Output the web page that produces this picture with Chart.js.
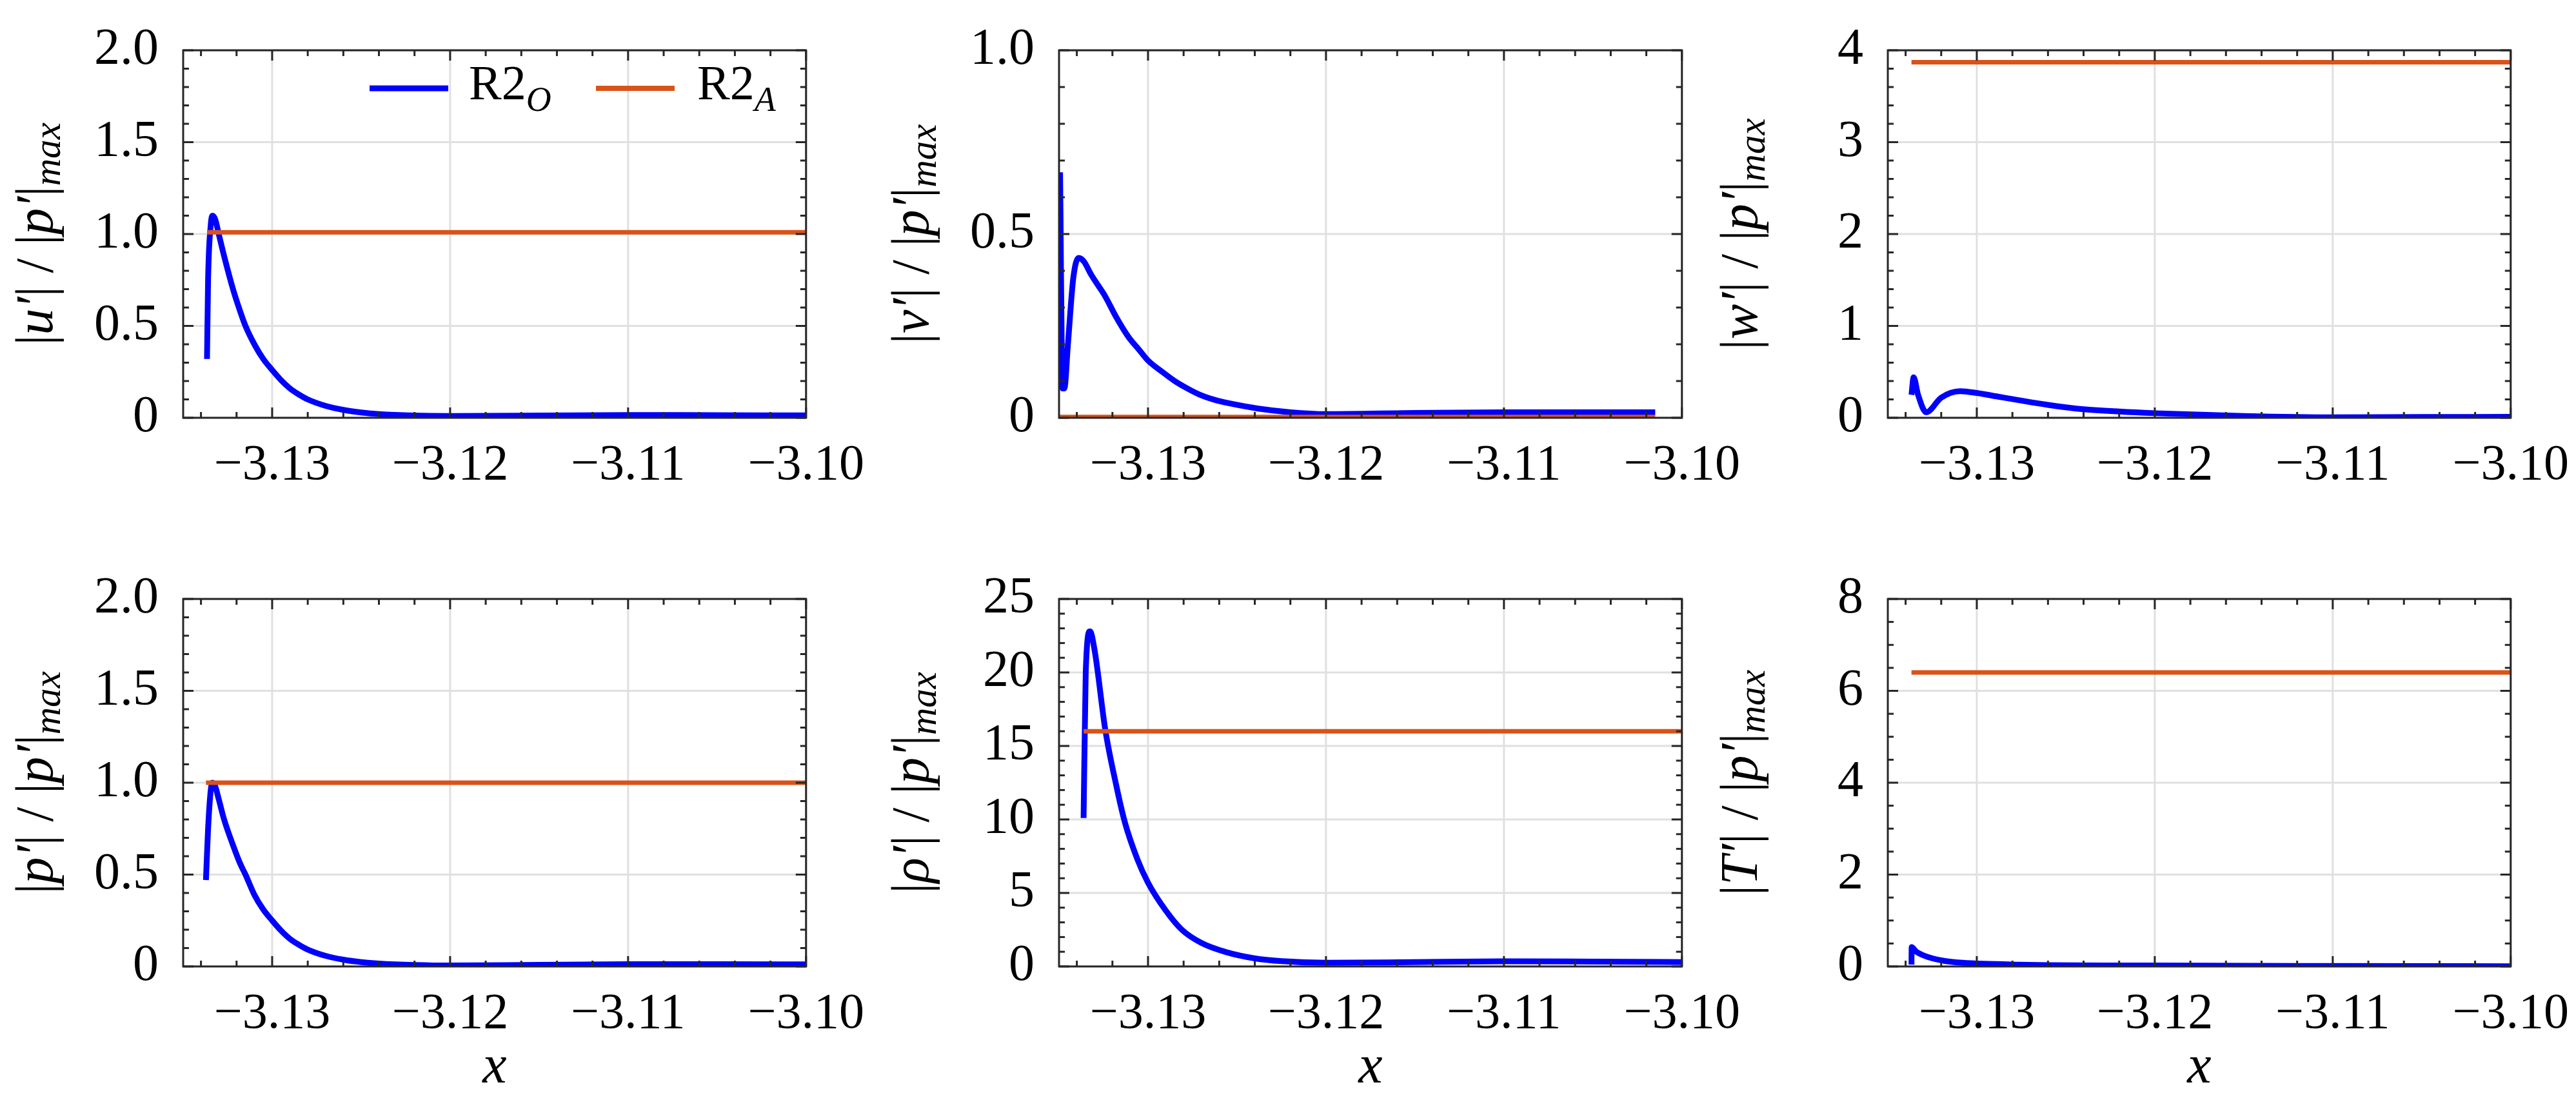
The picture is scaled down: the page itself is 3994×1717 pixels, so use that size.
<!DOCTYPE html>
<html>
<head>
<meta charset="utf-8">
<script src="https://cdn.jsdelivr.net/npm/chart.js@4"></script>
<style>
  body { margin: 0; background: #fff; width: 3994px; height: 1717px; position: relative; overflow: hidden; }
  canvas { position: absolute; }
</style>
</head>
<body>
<script>
// blue curve (R2_O) samples per panel, orange (R2_A) constant levels
const xU = [-3.13366, -3.1336, -3.13345, -3.13335, -3.1332, -3.1330, -3.1327, -3.1322, -3.1318, -3.1315, -3.1310, -3.1305, -3.1300, -3.1295, -3.1290, -3.1285, -3.1280, -3.1270, -3.1260, -3.1250, -3.1240, -3.1220, -3.1200, -3.1150, -3.1100, -3.1050, -3.1000];
const uO = [0.32, 0.75, 1.05, 1.10, 1.08, 1.00, 0.88, 0.70, 0.58, 0.50, 0.40, 0.32, 0.26, 0.205, 0.16, 0.127, 0.10, 0.065, 0.043, 0.029, 0.02, 0.012, 0.01, 0.012, 0.015, 0.014, 0.013];

const xV = [-3.1350, -3.13497, -3.13494, -3.13490, -3.13485, -3.1348, -3.1347, -3.1345, -3.1342, -3.1339, -3.1336, -3.1332, -3.1328, -3.1324, -3.1318, -3.1311, -3.1305, -3.1300, -3.1292, -3.1285, -3.1278, -3.1271, -3.1262, -3.1255, -3.1238, -3.1220, -3.1200, -3.1150, -3.1100, -3.1050, -3.1015];
const vO = [0.08, 0.45, 0.66, 0.45, 0.2, 0.08, 0.08, 0.2, 0.38, 0.435, 0.425, 0.39, 0.36, 0.33, 0.275, 0.22, 0.185, 0.156, 0.125, 0.10, 0.08, 0.063, 0.048, 0.04, 0.025, 0.015, 0.01, 0.013, 0.015, 0.015, 0.015];

const xW = [-3.13367, -3.13355, -3.1333, -3.13284, -3.1320, -3.13093, -3.1300, -3.1288, -3.1276, -3.1260, -3.1244, -3.1220, -3.1200, -3.1150, -3.1100, -3.1050, -3.1000];
const wO = [0.25, 0.44, 0.25, 0.06, 0.22, 0.29, 0.27, 0.23, 0.19, 0.14, 0.10, 0.068, 0.05, 0.02, 0.005, 0.008, 0.01];

const xP = [-3.13372, -3.1336, -3.13345, -3.13335, -3.1332, -3.1330, -3.1327, -3.1322, -3.1318, -3.1315, -3.1310, -3.1305, -3.1300, -3.1295, -3.1290, -3.1285, -3.1280, -3.1270, -3.1260, -3.1250, -3.1240, -3.1220, -3.1200, -3.1150, -3.1100, -3.1050, -3.1000];
const pO = [0.47, 0.75, 0.96, 1.0, 0.98, 0.91, 0.80, 0.66, 0.56, 0.50, 0.39, 0.31, 0.25, 0.195, 0.15, 0.118, 0.092, 0.058, 0.037, 0.024, 0.016, 0.008, 0.005, 0.009, 0.012, 0.012, 0.011];

const xR = [-3.13362, -3.1335, -3.13326, -3.1330, -3.1324, -3.1318, -3.1313, -3.1306, -3.1300, -3.1290, -3.1281, -3.1270, -3.1256, -3.1240, -3.1225, -3.1200, -3.1150, -3.1100, -3.1050, -3.1000];
const rO = [10.1, 20.0, 22.8, 21.5, 16.1, 12.4, 9.8, 7.3, 5.7, 3.8, 2.5, 1.6, 0.97, 0.55, 0.36, 0.25, 0.30, 0.35, 0.33, 0.30];

const xT = [-3.13367, -3.13366, -3.1334, -3.1327, -3.1318, -3.1308, -3.1276, -3.1200, -3.1100, -3.1000];
const tO = [0.04, 0.42, 0.32, 0.20, 0.12, 0.08, 0.04, 0.02, 0.01, 0.005];

const aLevels = [1.01, 0.002, 3.87, 1.0, 16.0, 6.4];

const xTicks = [-3.13, -3.12, -3.11, -3.10];
const yTicks = [[0, 0.5, 1.0, 1.5, 2.0], [0, 0.5, 1.0], [0, 1, 2, 3, 4], [0, 0.5, 1.0, 1.5, 2.0], [0, 5, 10, 15, 20, 25], [0, 2, 4, 6, 8]];
const yMinor = [0.1, 0.1, 0.2, 0.1, 1, 0.5];
const varNames = ['u′', 'v′', 'w′', 'p′', 'ρ′', 'T′'];

const panels = [
  { xs: xU, ys: uO }, { xs: xV, ys: vO }, { xs: xW, ys: wO },
  { xs: xP, ys: pO }, { xs: xR, ys: rO }, { xs: xT, ys: tO }
];

const BLUE = '#0000ff', ORANGE = '#d95319';
const FONT = "'Liberation Serif', serif";
const plotLefts = [284, 1642, 2927];
const plotTops = [43, 894];

function fmtY(v, ticks) {
  if (v === 0) return '0';
  const dec = ticks.some(t => t % 1 !== 0);
  return dec ? v.toFixed(1) : String(v);
}

// grid, inward ticks, frame, axis titles and legend
const decor = {
  id: 'decor',
  beforeDatasetsDraw(chart, args, o) {
    const { ctx, chartArea: a, scales: { x, y } } = chart;
    ctx.save();
    ctx.strokeStyle = '#e0e0e0';
    ctx.lineWidth = 3;
    xTicks.forEach(v => { const px = x.getPixelForValue(v); ctx.beginPath(); ctx.moveTo(px, a.top); ctx.lineTo(px, a.bottom); ctx.stroke(); });
    o.yt.forEach(v => { const py = y.getPixelForValue(v); ctx.beginPath(); ctx.moveTo(a.left, py); ctx.lineTo(a.right, py); ctx.stroke(); });
    ctx.restore();
  },
  afterDraw(chart, args, o) {
    const { ctx, chartArea: a, scales: { x, y } } = chart;
    ctx.save();
    ctx.strokeStyle = '#262626';
    ctx.lineWidth = 3;
    const tick = (x1, y1, x2, y2) => { ctx.beginPath(); ctx.moveTo(x1, y1); ctx.lineTo(x2, y2); ctx.stroke(); };
    for (let i = 0; ; i++) {
      const v = -3.134 + i * 0.002;
      if (v > -3.0999) break;
      const px = x.getPixelForValue(v);
      const major = xTicks.some(t => Math.abs(t - v) < 1e-6);
      const L = major ? 16 : 9;
      tick(px, a.bottom, px, a.bottom - L);
      tick(px, a.top, px, a.top + L);
    }
    const yMax = o.yt[o.yt.length - 1];
    for (let i = 0; i * o.ym <= yMax + 1e-9; i++) {
      const v = i * o.ym;
      const py = y.getPixelForValue(v);
      const major = o.yt.some(t => Math.abs(t - v) < 1e-6);
      const L = major ? 16 : 9;
      tick(a.left, py, a.left + L, py);
      tick(a.right, py, a.right - L, py);
    }
    ctx.strokeRect(a.left, a.top, a.right - a.left, a.bottom - a.top);

    // y title
    ctx.fillStyle = '#000';
    ctx.translate(a.left - 225, (a.top + a.bottom) / 2);
    ctx.rotate(-Math.PI / 2);
    const fs = 82;
    const segs = [['|', false, fs, 0], [o.name, true, fs, 0], ['| / |', false, fs, 0], ['p′', true, fs, 0], ['|', false, fs, 0], ['max', true, fs * 0.72, 18]];
    let total = 0;
    segs.forEach(s => { ctx.font = (s[1] ? 'italic ' : '') + s[2] + 'px ' + FONT; total += ctx.measureText(s[0]).width; });
    let cx = -total / 2;
    ctx.textBaseline = 'middle';
    segs.forEach(s => {
      ctx.font = (s[1] ? 'italic ' : '') + s[2] + 'px ' + FONT;
      ctx.fillText(s[0], cx, s[3]);
      cx += ctx.measureText(s[0]).width;
    });
    ctx.setTransform(chart.currentDevicePixelRatio, 0, 0, chart.currentDevicePixelRatio, 0, 0);

    if (o.xtitle) {
      ctx.font = 'italic 84px ' + FONT;
      ctx.textAlign = 'center';
      ctx.textBaseline = 'middle';
      ctx.fillText('x', (a.left + a.right) / 2, a.bottom + 158);
    }
    if (o.legend) {
      const items = [[BLUE, 'O', 289, 443, 9], [ORANGE, 'A', 640, 797, 8]];
      items.forEach(([c, sub, x0, tx, lw]) => {
        ctx.strokeStyle = c; ctx.lineWidth = lw;
        tick(a.left + x0, a.top + 59, a.left + x0 + 122, a.top + 59);
        ctx.textBaseline = 'middle'; ctx.textAlign = 'left';
        ctx.font = '76px ' + FONT;
        ctx.fillText('R2', a.left + tx, a.top + 56);
        const w = ctx.measureText('R2').width;
        ctx.font = 'italic 54px ' + FONT;
        ctx.fillText(sub, a.left + tx + w, a.top + 80);
      });
    }
    ctx.restore();
  }
};

panels.forEach((p, i) => {
  const col = i % 3, row = Math.floor(i / 3);
  const cv = document.createElement('canvas');
  cv.style.left = (plotLefts[col] - 284) + 'px';
  cv.style.top = (plotTops[row] - 43) + 'px';
  cv.style.width = '1360px';
  cv.style.height = '848px';
  document.body.appendChild(cv);
  const yt = yTicks[i];
  const xEnd = p.xs[p.xs.length - 1];
  new Chart(cv, {
    type: 'line',
    data: {
      datasets: [
        { data: [{ x: p.xs[0], y: aLevels[i] }, { x: xEnd, y: aLevels[i] }], borderColor: ORANGE, borderWidth: 7, pointRadius: 0 },
        { data: p.xs.map((x, k) => ({ x, y: p.ys[k] })), borderColor: BLUE, borderWidth: 9, pointRadius: 0, cubicInterpolationMode: 'monotone' }
      ]
    },
    options: {
      responsive: false,
      animation: false,
      devicePixelRatio: 1,
      layout: { padding: { left: 0, top: 43, right: 103, bottom: 0 } },
      plugins: {
        legend: { display: false },
        tooltip: { enabled: false },
        decor: { yt, ym: yMinor[i], name: varNames[i], xtitle: row === 1, legend: i === 0 }
      },
      scales: {
        x: {
          type: 'linear', min: -3.135, max: -3.10,
          afterBuildTicks: s => { s.ticks = xTicks.map(v => ({ value: v })); },
          afterFit: s => { s.height = 200; },
          grid: { display: false }, border: { display: false },
          ticks: { maxRotation: 0, padding: 20, color: '#000', font: { family: FONT, size: 78 },
                   callback: v => '−' + Math.abs(v).toFixed(2) }
        },
        y: {
          min: yt[0], max: yt[yt.length - 1],
          afterBuildTicks: s => { s.ticks = yt.map(v => ({ value: v })); },
          afterFit: s => { s.width = 284; },
          grid: { display: false }, border: { display: false },
          ticks: { padding: 30, color: '#000', font: { family: FONT, size: 80 }, callback: v => fmtY(v, yt) }
        }
      }
    },
    plugins: [decor]
  });
});
</script>
</body>
</html>
